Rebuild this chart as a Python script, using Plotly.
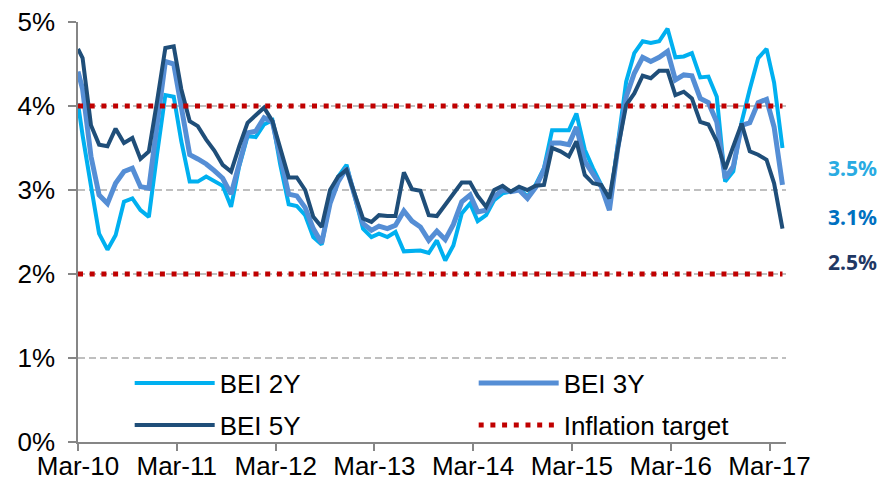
import plotly.graph_objects as go
import pandas as pd

# ---- data ----
dates = ["2010-03-01"] + [d.strftime("%Y-%m-%d") for d in
                          pd.date_range("2010-03-18", periods=86, freq=pd.DateOffset(months=1))]

bei_2y = [4.03, 3.65, 3.05, 2.48, 2.29, 2.46, 2.86, 2.90, 2.76, 2.68,
          3.42, 4.13, 4.11, 3.58, 3.10, 3.10, 3.16, 3.10, 3.05, 2.80,
          3.28, 3.64, 3.63, 3.78, 3.83, 3.30, 2.83, 2.81, 2.70, 2.44,
          2.35, 2.86, 3.16, 3.30, 2.92, 2.54, 2.44, 2.48, 2.44, 2.50,
          2.27, 2.28, 2.28, 2.25, 2.40, 2.16, 2.34, 2.72, 2.84, 2.63,
          2.70, 2.88, 2.96, 2.98, 3.02, 2.92, 3.06, 3.26, 3.71, 3.71,
          3.71, 3.91, 3.48, 3.26, 3.06, 2.80, 3.58, 4.29, 4.63, 4.77,
          4.75, 4.77, 4.92, 4.58, 4.59, 4.63, 4.34, 4.35, 4.11, 3.10,
          3.22, 3.81, 4.20, 4.57, 4.68, 4.28, 3.50]

bei_3y = [4.41, 4.20, 3.40, 2.94, 2.84, 3.08, 3.22, 3.26, 3.04, 3.02,
          3.77, 4.53, 4.50, 4.01, 3.42, 3.37, 3.31, 3.23, 3.14, 2.95,
          3.33, 3.68, 3.70, 3.86, 3.81, 3.38, 2.95, 2.93, 2.79, 2.54,
          2.37, 2.84, 3.10, 3.26, 2.92, 2.60, 2.52, 2.57, 2.54, 2.58,
          2.75, 2.63, 2.56, 2.40, 2.51, 2.41, 2.59, 2.86, 2.94, 2.74,
          2.76, 2.92, 3.00, 2.98, 3.00, 2.90, 3.03, 3.24, 3.56, 3.56,
          3.54, 3.75, 3.34, 3.18, 3.04, 2.76, 3.50, 4.11, 4.39, 4.58,
          4.53, 4.58, 4.65, 4.31, 4.37, 4.36, 4.09, 4.04, 3.81, 3.14,
          3.28, 3.77, 3.80, 4.04, 4.08, 3.75, 3.06]

bei_5y = [4.68, 4.57, 3.77, 3.54, 3.52, 3.73, 3.56, 3.62, 3.37, 3.46,
          4.05, 4.69, 4.71, 4.20, 3.82, 3.76, 3.60, 3.47, 3.30, 3.22,
          3.52, 3.80, 3.89, 3.98, 3.82, 3.48, 3.15, 3.15, 3.00, 2.68,
          2.56, 3.00, 3.16, 3.24, 2.96, 2.66, 2.62, 2.70, 2.69, 2.69,
          3.21, 3.01, 2.99, 2.70, 2.69, 2.82, 2.96, 3.09, 3.09, 2.93,
          2.80, 3.00, 3.05, 2.98, 3.04, 3.00, 3.05, 3.06, 3.50, 3.46,
          3.40, 3.58, 3.18, 3.08, 3.06, 2.90, 3.49, 4.01, 4.15, 4.36,
          4.33, 4.42, 4.42, 4.13, 4.17, 4.09, 3.81, 3.78, 3.58, 3.25,
          3.52, 3.79, 3.46, 3.42, 3.36, 3.08, 2.54]

target_low = 2.0
target_high = 4.0

series_names = ["BEI 2Y", "BEI 3Y", "BEI 5Y"]
target_name = "Inflation target"
x_range = ["2010-03-01", "2017-05-01"]
y_ticks = [0, 1, 2, 3, 4, 5]
y_tick_labels = ["%d%%" % v for v in y_ticks]

# ---- styles ----
C2, C3, C5 = "#00B0F0", "#558ED5", "#1F4E79"
RED = "#C00000"
AXIS = "#868686"
FONT = "Liberation Sans, Arial, sans-serif"

fig = go.Figure()
for name, vals, col, w, lg in [(series_names[0], bei_2y, C2, 4, "legend"),
                               (series_names[1], bei_3y, C3, 5, "legend"),
                               (series_names[2], bei_5y, C5, 4, "legend2")]:
    fig.add_trace(go.Scatter(x=dates, y=vals, name=name, mode="lines", legend=lg,
                             line=dict(color=col, width=w)))

for k, lvl in enumerate([target_low, target_high]):
    fig.add_trace(go.Scatter(x=[dates[0], dates[-1]], y=[lvl, lvl], name=target_name,
                             mode="lines", legend="legend2", legendgroup="target",
                             showlegend=(k == 0),
                             line=dict(color=RED, width=5, dash="5px,6.7px")))

# end-value labels
for vals, col, ypos in [(bei_2y, "#29ABE2", 0.652), (bei_3y, "#0070C0", 0.536), (bei_5y, "#1F3864", 0.429)]:
    fig.add_annotation(xref="paper", yref="paper", x=1.094, y=ypos, xanchor="center",
                       text="<b>%.1f%%</b>" % vals[-1], showarrow=False,
                       font=dict(family="Noto Sans, Open Sans, sans-serif", size=21, color=col))

leg_common = dict(orientation="h", xanchor="left", yanchor="middle",
                  entrywidth=249, itemwidth=80, bgcolor="rgba(0,0,0,0)",
                  font=dict(family=FONT, size=26, color="black"))

# the page adds an 8px body margin, so the figure is made smaller than the window
fig.update_layout(
    width=880, height=468,
    margin=dict(l=70, r=102, t=14, b=34, pad=0, autoexpand=False),
    plot_bgcolor="white", paper_bgcolor="white",
    font=dict(family=FONT, size=26, color="black"),
    showlegend=True,
    legend=dict(x=0.073, y=0.1405, **leg_common),
    legend2=dict(x=0.073, y=0.0405, **leg_common),
    xaxis=dict(type="date", range=x_range, tick0="2010-03-01", dtick="M12",
               tickformat="%b-%y", ticks="outside", ticklen=7, tickwidth=1.5,
               tickcolor=AXIS, showline=True, linecolor=AXIS, linewidth=1.5,
               showgrid=False, zeroline=False, automargin=False,
               ticklabelstandoff=-7, ticklabeloverflow="allow",
               tickfont=dict(family=FONT, size=26, color="black")),
    yaxis=dict(range=[0, 5], tickvals=y_ticks, ticktext=y_tick_labels,
               ticks="outside", ticklen=8, tickwidth=1.5, tickcolor=AXIS,
               showline=True, linecolor=AXIS, linewidth=1.5,
               showgrid=True, gridcolor="#BFBFBF", gridwidth=1.5, griddash="7px,4px",
               zeroline=False, ticklabelstandoff=8, automargin=False,
               ticklabeloverflow="allow",
               tickfont=dict(family=FONT, size=26, color="black")),
)

fig.write_html("out.html")
